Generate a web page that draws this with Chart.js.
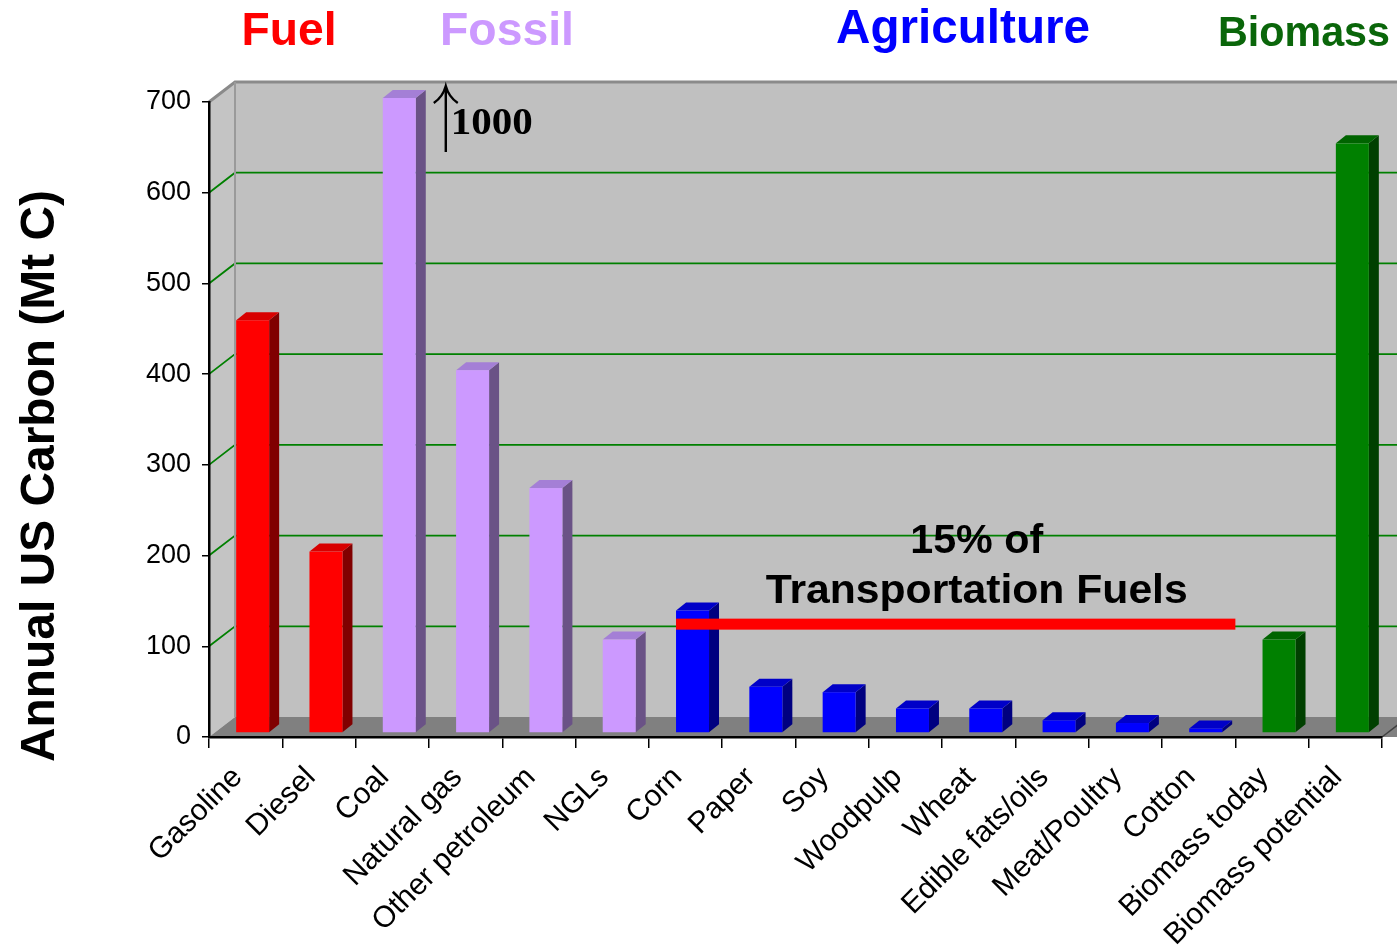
<!DOCTYPE html>
<html>
<head>
<meta charset="utf-8">
<title>Annual US Carbon (Mt C)</title>
<script src="https://cdn.jsdelivr.net/npm/chart.js@4.4.1/dist/chart.umd.min.js"></script>
<style>
  html, body { margin: 0; padding: 0; background: #ffffff; }
  #wrap { width: 1397px; height: 950px; }
</style>
</head>
<body>
<div id="wrap"><canvas id="c" width="1397" height="950"></canvas></div>
<script>
// ---- data ----
const categories = ['Gasoline', 'Diesel', 'Coal', 'Natural gas', 'Other petroleum', 'NGLs',
  'Corn', 'Paper', 'Soy', 'Woodpulp', 'Wheat', 'Edible fats/oils', 'Meat/Poultry', 'Cotton',
  'Biomass today', 'Biomass potential'];
const carbonMtC = [455, 200, 1000, 400, 270, 103, 135, 51, 45, 27, 27, 14, 11, 5, 103, 650];
const categoryGroup = ['Fuel', 'Fuel', 'Fossil', 'Fossil', 'Fossil', 'Fossil',
  'Agriculture', 'Agriculture', 'Agriculture', 'Agriculture', 'Agriculture', 'Agriculture',
  'Agriculture', 'Agriculture', 'Biomass', 'Biomass'];
const groupNames = ['Fuel', 'Fossil', 'Agriculture', 'Biomass'];
const yTickValues = [0, 100, 200, 300, 400, 500, 600, 700];
const coalLabel = '1000';
const transportShareLevel = 120;            // Mt C, the "15% of transportation fuels" bar
const transportShareSpan = ['Corn', 'Cotton'];
const transportShareText = ['15% of', 'Transportation Fuels'];
const yTitle = 'Annual US Carbon (Mt C)';

// ---- styling ----
const groupStyle = {
  Fuel:        { front: '#ff0000', side: '#800000', top: '#d80000', title: '#ff0000' },
  Fossil:      { front: '#cc99ff', side: '#6a5286', top: '#a47fd6', title: '#cc99ff' },
  Agriculture: { front: '#0000ff', side: '#000080', top: '#0000c8', title: '#0000ff' },
  Biomass:     { front: '#008000', side: '#004000', top: '#006400', title: '#0a660a' }
};
const WALL = { dx: 26, dy: -20 };     // back wall offset from the front plane
const BAR_FRONT = { dx: 7, dy: -4 };  // bar front face offset
const BAR_DEPTH = { dx: 10, dy: -8 }; // bar thickness
const SANS = '"Liberation Sans", Arial, sans-serif';
const SERIF = '"Liberation Serif", "Times New Roman", serif';

function fitText(ctx, text, x, y, font, color, width, rot) {
  ctx.save();
  ctx.font = font;
  const s = width / ctx.measureText(text).width;
  ctx.translate(x, y);
  if (rot) ctx.rotate(rot);
  ctx.scale(s, 1);
  ctx.fillStyle = color;
  ctx.textAlign = 'center';
  ctx.textBaseline = 'alphabetic';
  ctx.fillText(text, 0, 0);
  ctx.restore();
}

// walls, floor and gridlines of the 3-D frame
const framePlugin = {
  id: 'frame',
  beforeDraw(chart) {
    const { ctx, chartArea: a, scales: { y } } = chart;
    ctx.save();
    ctx.fillStyle = '#ffffff';
    ctx.fillRect(0, 0, chart.width, chart.height);
    const L = a.left, R = a.right, T = a.top, B = a.bottom;
    // back wall
    ctx.fillStyle = '#c0c0c0';
    ctx.fillRect(L + WALL.dx, T + WALL.dy, (R - L) + 40, B - T);
    // left wall
    ctx.beginPath();
    ctx.moveTo(L, T); ctx.lineTo(L + WALL.dx, T + WALL.dy);
    ctx.lineTo(L + WALL.dx, B + WALL.dy); ctx.lineTo(L, B); ctx.closePath();
    ctx.fillStyle = '#c4c4c4';
    ctx.fill();
    // floor
    ctx.beginPath();
    ctx.moveTo(L, B); ctx.lineTo(L + WALL.dx, B + WALL.dy);
    ctx.lineTo(R + WALL.dx + 40, B + WALL.dy); ctx.lineTo(R + 40, B); ctx.closePath();
    ctx.fillStyle = '#808080';
    ctx.fill();
    // gridlines on left and back walls
    ctx.strokeStyle = '#008000';
    ctx.lineWidth = 1.8;
    y.ticks.forEach(t => {
      if (t.value <= y.min || t.value >= y.max) return;
      const py = y.getPixelForValue(t.value);
      ctx.beginPath();
      ctx.moveTo(L, py); ctx.lineTo(L + WALL.dx, py + WALL.dy);
      ctx.lineTo(R + WALL.dx + 40, py + WALL.dy);
      ctx.stroke();
    });
    // wall edges
    ctx.strokeStyle = '#8a8a8a';
    ctx.lineWidth = 3;
    ctx.beginPath();
    ctx.moveTo(L, T); ctx.lineTo(L + WALL.dx, T + WALL.dy); ctx.lineTo(R + WALL.dx + 40, T + WALL.dy);
    ctx.stroke();
    ctx.lineWidth = 2;
    ctx.strokeStyle = '#9a9a9a';
    ctx.beginPath();
    ctx.moveTo(L + WALL.dx, T + WALL.dy); ctx.lineTo(L + WALL.dx, B + WALL.dy);
    ctx.stroke();
    // floor right edge
    ctx.strokeStyle = '#404040';
    ctx.lineWidth = 1.5;
    ctx.beginPath();
    ctx.moveTo(R, B); ctx.lineTo(R + WALL.dx * 0.7, B + WALL.dy * 0.7);
    ctx.stroke();
    ctx.restore();
  },
  // 3-D bars built on the bar elements laid out by the chart
  beforeDatasetsDraw(chart) {
    const { ctx, chartArea: a } = chart;
    const meta = chart.getDatasetMeta(0);
    ctx.save();
    meta.data.forEach((el, i) => {
      const p = el.getProps(['x', 'y', 'base', 'width'], true);
      const st = groupStyle[categoryGroup[i]];
      const x0 = p.x - p.width / 2 + BAR_FRONT.dx;
      const x1 = x0 + p.width;
      const yT = Math.max(p.y, a.top) + BAR_FRONT.dy;
      const yB = p.base + BAR_FRONT.dy;
      // side
      ctx.fillStyle = st.side;
      ctx.beginPath();
      ctx.moveTo(x1, yT); ctx.lineTo(x1 + BAR_DEPTH.dx, yT + BAR_DEPTH.dy);
      ctx.lineTo(x1 + BAR_DEPTH.dx, yB + BAR_DEPTH.dy); ctx.lineTo(x1, yB); ctx.closePath();
      ctx.fill();
      // top
      ctx.fillStyle = st.top;
      ctx.beginPath();
      ctx.moveTo(x0, yT); ctx.lineTo(x0 + BAR_DEPTH.dx, yT + BAR_DEPTH.dy);
      ctx.lineTo(x1 + BAR_DEPTH.dx, yT + BAR_DEPTH.dy); ctx.lineTo(x1, yT); ctx.closePath();
      ctx.fill();
      // front
      ctx.fillStyle = st.front;
      ctx.fillRect(x0, yT, p.width, yB - yT);
    });
    ctx.restore();
    return false;
  },
  afterDraw(chart) {
    const { ctx, chartArea: a, scales: { x, y } } = chart;
    ctx.save();
    // transportation-fuel share bar
    const meta = chart.getDatasetMeta(0);
    const i0 = categories.indexOf(transportShareSpan[0]);
    const i1 = categories.indexOf(transportShareSpan[1]);
    const e0 = meta.data[i0].getProps(['x', 'width'], true);
    const step = x.getPixelForValue(1) - x.getPixelForValue(0);
    const lx0 = e0.x - e0.width / 2 + BAR_FRONT.dx;
    const lx1 = x.getPixelForValue(i1) + step / 2;
    const ly = y.getPixelForValue(transportShareLevel) + BAR_FRONT.dy;
    ctx.fillStyle = '#ff0000';
    ctx.fillRect(lx0, ly - 5.5, lx1 - lx0, 11);
    // its label
    const tcx = (lx0 + lx1) / 2 + 21;
    fitText(ctx, transportShareText[0], tcx, 553, 'bold 40px ' + SANS, '#000000', 133);
    fitText(ctx, transportShareText[1], tcx, 603, 'bold 41px ' + SANS, '#000000', 422);

    // off-scale marker for coal
    const coalI = categories.indexOf('Coal');
    const ce = meta.data[coalI].getProps(['x', 'width'], true);
    const ax = ce.x + ce.width / 2 + BAR_FRONT.dx + 30;
    ctx.strokeStyle = '#000000';
    ctx.lineWidth = 2.4;
    ctx.beginPath();
    ctx.moveTo(ax, 152); ctx.lineTo(ax, 89);
    ctx.stroke();
    ctx.beginPath();
    ctx.moveTo(ax - 12, 103); ctx.quadraticCurveTo(ax - 3, 97, ax, 86);
    ctx.quadraticCurveTo(ax + 3, 97, ax + 12, 103);
    ctx.stroke();
    fitText(ctx, coalLabel, ax + 7 + 39, 134, 'bold 38px ' + SERIF, '#000000', 82);

    // group headings
    const headPos = { Fuel: [289, 45, 95, 'bold 47px '], Fossil: [507, 45, 134, 'bold 47px '],
                      Agriculture: [963, 43, 254, 'bold 49px '], Biomass: [1304, 46, 172, 'bold 42px '] };
    groupNames.forEach(g => {
      const [hx, hy, hw, hf] = headPos[g];
      fitText(ctx, g, hx, hy, hf + SANS, groupStyle[g].title, hw);
    });

    // y axis title
    fitText(ctx, yTitle, 54, 476, 'bold 48px ' + SANS, '#000000', 572, -Math.PI / 2);
    ctx.restore();
  }
};

new Chart(document.getElementById('c'), {
  type: 'bar',
  data: {
    labels: categories,
    datasets: [{
      label: yTitle,
      data: carbonMtC,
      backgroundColor: categoryGroup.map(g => groupStyle[g].front),
      barPercentage: 0.45,
      categoryPercentage: 1.0
    }]
  },
  options: {
    responsive: false,
    animation: false,
    events: [],
    layout: { padding: { left: 0, top: 102, right: 15, bottom: 0 } },
    plugins: { legend: { display: false }, tooltip: { enabled: false }, title: { display: false } },
    scales: {
      x: {
        offset: true,
        grid: { display: true, drawOnChartArea: false, drawTicks: true, tickLength: 11,
                color: '#000000', lineWidth: 1.5, offset: true },
        border: { display: true, color: '#000000', width: 2.5 },
        ticks: {
          autoSkip: false, maxRotation: 45, minRotation: 45, padding: 12, labelOffset: -8,
          color: '#000000', font: { family: SANS, size: 30 }
        },
        afterFit(s) { s.height = 213; }
      },
      y: {
        min: 0, max: 700,
        afterBuildTicks(s) { s.ticks = yTickValues.map(v => ({ value: v })); },
        grid: { display: true, drawOnChartArea: false, drawTicks: true, tickLength: 7,
                color: '#000000', lineWidth: 1.5 },
        border: { display: true, color: '#000000', width: 2.5 },
        ticks: { padding: 11, color: '#000000', font: { family: SANS, size: 27 } },
        afterFit(s) { s.width = 209; }
      }
    }
  },
  plugins: [framePlugin]
});
</script>
</body>
</html>
